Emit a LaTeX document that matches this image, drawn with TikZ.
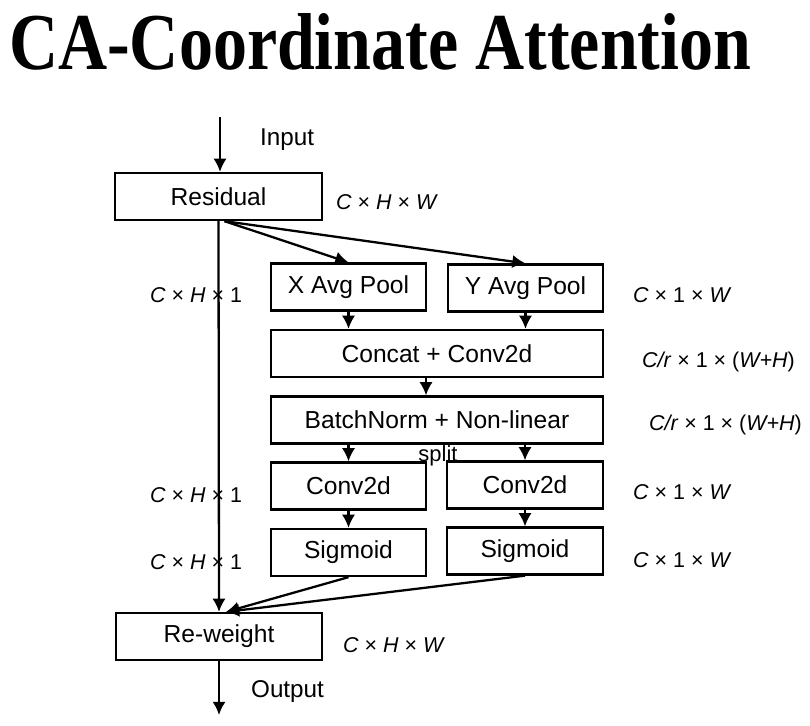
\documentclass[tikz,border=0pt]{standalone}
\usepackage{fontspec}
\setmainfont{Liberation Sans}
\newfontfamily\titlefont{Liberation Serif}
\usetikzlibrary{arrows.meta,calc}

\tikzset{
  blk/.style={draw, line width=1.3pt, inner sep=0pt, minimum height=0.94cm,
    font=\fontsize{14}{16}\selectfont},
  dimlbl/.style={anchor=west, inner sep=0pt, font=\fontsize{12.2}{14}\selectfont},
  iolbl/.style={anchor=west, inner sep=0pt, font=\fontsize{13.8}{16}\selectfont}
}

\begin{document}
\begin{tikzpicture}[x=0.02cm, y=-0.02cm, line width=1.3pt,
    >={Latex[length=7.5pt,width=7.5pt]}]
    \useasboundingbox (0,0) rectangle (810,725);

    \node[anchor=north west, inner sep=0pt] (title) at (8,12)
      {\resizebox{14.84cm}{1.12cm}{\titlefont\bfseries CA-Coordinate Attention}};

    % blocks
    \node[blk, minimum width=4.14cm] (res) at (218.5,196.5) {Residual};
    \node[blk, minimum width=3.1cm] (xpool) at (348.5,287) {X Avg Pool};
    \node[blk, minimum width=3.1cm] (ypool) at (525.5,288) {Y Avg Pool};
    \node[blk, minimum width=6.64cm] (concat) at (437,353.5) {Concat + Conv2d};
    \node[blk, minimum width=6.64cm] (bn) at (437,420) {BatchNorm + Non-linear};
    \node[blk, minimum width=3.1cm] (convl) at (348.5,486) {Conv2d};
    \node[blk, minimum width=3.12cm] (convr) at (525,485) {Conv2d};
    \node[blk, minimum width=3.1cm] (sigl) at (348.5,552.5) {Sigmoid};
    \node[blk, minimum width=3.12cm] (sigr) at (525,551) {Sigmoid};
    \node[blk, minimum width=4.12cm] (rew) at (219,636.5) {Re-weight};

    \coordinate (in) at (220,117);
    \coordinate (out) at (220,715);

    % connectors
    \draw[->] (in) -- (res.north -| in);
    \draw[->] (res.south) -- (rew.north);
    \draw[->] ($(res.south)+(6,0)$) -- (xpool.north);
    \draw[->] ($(res.south)+(6,0)$) -- (ypool.north);
    \draw[->] (xpool.south) -- (xpool.south |- concat.north);
    \draw[->] (ypool.south) -- (ypool.south |- concat.north);
    \draw[->] ($(concat.south)+(-11,0)$) -- ($(bn.north)+(-11,0)$);
    \draw[->] (convl.north |- bn.south) -- (convl.north);
    \draw[->] (convr.north |- bn.south) -- (convr.north);
    \draw[->] (convl) -- (sigl);
    \draw[->] (convr) -- (sigr);
    \draw[->] (sigl.south) -- ($(rew.north)+(7,0)$);
    \draw[->] (sigr.south) -- ($(rew.north)+(7,0)$);
    \draw[->] (rew.south) -- (out -| rew.south);

    % labels
    \node[iolbl] (inlbl) at (259,140) {Input};
    \node[iolbl] (outlbl) at (250,692) {Output};
    \node[inner sep=0pt, font=\fontsize{12.5}{13}\selectfont] (split) at (438,456) {split};

    \node[dimlbl] (d1) at (335,202) {\textit{C} × \textit{H} × \textit{W}};
    \node[dimlbl] (d2) at (632,295) {\textit{C} × 1 × \textit{W}};
    \node[dimlbl] (d3) at (641,362) {\textit{C/r} × 1 × (\textit{W+H})};
    \node[dimlbl] (d4) at (648,425) {\textit{C/r} × 1 × (\textit{W+H})};
    \node[dimlbl] (d5) at (632,492) {\textit{C} × 1 × \textit{W}};
    \node[dimlbl] (d6) at (632,560) {\textit{C} × 1 × \textit{W}};
    \node[dimlbl] (d7) at (342,645) {\textit{C} × \textit{H} × \textit{W}};
    \node[dimlbl] (l1) at (149,295) {\textit{C} × \textit{H} × 1};
    \node[dimlbl] (l2) at (149,495) {\textit{C} × \textit{H} × 1};
    \node[dimlbl] (l3) at (149,562) {\textit{C} × \textit{H} × 1};

\end{tikzpicture}
\end{document}
